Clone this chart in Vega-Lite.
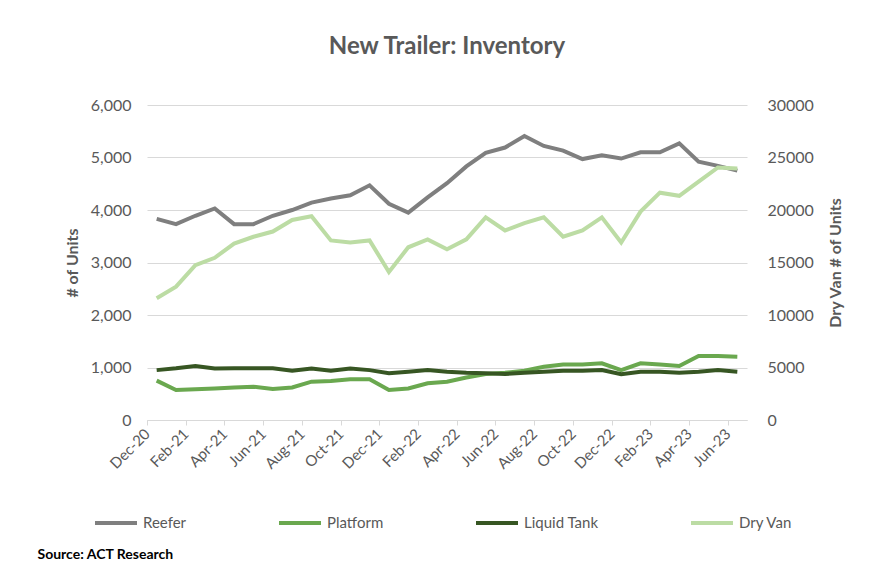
{
"$schema": "https://vega.github.io/schema/vega-lite/v6.json",
"width": 600, "height": 315,
"autosize": {"type": "none"},
"padding": {"left": 147, "top": 105, "right": 148, "bottom": 159},
"background": "white",
"config": {"view": {"stroke": null}, "font": "Lato"},
"title": {"text": "New Trailer: Inventory", "fontSize": 24, "fontWeight": "bold", "color": "#595959", "anchor": "middle", "frame": "group", "offset": 38},
"data": {"values": [
{"month":"Dec-20","series":"Reefer","value":3830},{"month":"Jan-21","series":"Reefer","value":3730},{"month":"Feb-21","series":"Reefer","value":3890},{"month":"Mar-21","series":"Reefer","value":4030},{"month":"Apr-21","series":"Reefer","value":3730},{"month":"May-21","series":"Reefer","value":3730},{"month":"Jun-21","series":"Reefer","value":3890},{"month":"Jul-21","series":"Reefer","value":4000},{"month":"Aug-21","series":"Reefer","value":4140},{"month":"Sep-21","series":"Reefer","value":4220},{"month":"Oct-21","series":"Reefer","value":4280},{"month":"Nov-21","series":"Reefer","value":4470},{"month":"Dec-21","series":"Reefer","value":4120},{"month":"Jan-22","series":"Reefer","value":3950},{"month":"Feb-22","series":"Reefer","value":4240},{"month":"Mar-22","series":"Reefer","value":4510},{"month":"Apr-22","series":"Reefer","value":4830},{"month":"May-22","series":"Reefer","value":5090},{"month":"Jun-22","series":"Reefer","value":5190},{"month":"Jul-22","series":"Reefer","value":5410},{"month":"Aug-22","series":"Reefer","value":5220},{"month":"Sep-22","series":"Reefer","value":5130},{"month":"Oct-22","series":"Reefer","value":4970},{"month":"Nov-22","series":"Reefer","value":5040},{"month":"Dec-22","series":"Reefer","value":4980},{"month":"Jan-23","series":"Reefer","value":5100},{"month":"Feb-23","series":"Reefer","value":5100},{"month":"Mar-23","series":"Reefer","value":5270},{"month":"Apr-23","series":"Reefer","value":4920},{"month":"May-23","series":"Reefer","value":4840},{"month":"Jun-23","series":"Reefer","value":4750},
{"month":"Dec-20","series":"Platform","value":750},{"month":"Jan-21","series":"Platform","value":570},{"month":"Feb-21","series":"Platform","value":585},{"month":"Mar-21","series":"Platform","value":600},{"month":"Apr-21","series":"Platform","value":620},{"month":"May-21","series":"Platform","value":635},{"month":"Jun-21","series":"Platform","value":590},{"month":"Jul-21","series":"Platform","value":620},{"month":"Aug-21","series":"Platform","value":730},{"month":"Sep-21","series":"Platform","value":745},{"month":"Oct-21","series":"Platform","value":775},{"month":"Nov-21","series":"Platform","value":775},{"month":"Dec-21","series":"Platform","value":570},{"month":"Jan-22","series":"Platform","value":600},{"month":"Feb-22","series":"Platform","value":700},{"month":"Mar-22","series":"Platform","value":730},{"month":"Apr-22","series":"Platform","value":810},{"month":"May-22","series":"Platform","value":875},{"month":"Jun-22","series":"Platform","value":900},{"month":"Jul-22","series":"Platform","value":940},{"month":"Aug-22","series":"Platform","value":1015},{"month":"Sep-22","series":"Platform","value":1055},{"month":"Oct-22","series":"Platform","value":1055},{"month":"Nov-22","series":"Platform","value":1080},{"month":"Dec-22","series":"Platform","value":950},{"month":"Jan-23","series":"Platform","value":1080},{"month":"Feb-23","series":"Platform","value":1055},{"month":"Mar-23","series":"Platform","value":1030},{"month":"Apr-23","series":"Platform","value":1220},{"month":"May-23","series":"Platform","value":1220},{"month":"Jun-23","series":"Platform","value":1205},
{"month":"Dec-20","series":"Liquid Tank","value":950},{"month":"Jan-21","series":"Liquid Tank","value":985},{"month":"Feb-21","series":"Liquid Tank","value":1030},{"month":"Mar-21","series":"Liquid Tank","value":980},{"month":"Apr-21","series":"Liquid Tank","value":985},{"month":"May-21","series":"Liquid Tank","value":985},{"month":"Jun-21","series":"Liquid Tank","value":985},{"month":"Jul-21","series":"Liquid Tank","value":940},{"month":"Aug-21","series":"Liquid Tank","value":980},{"month":"Sep-21","series":"Liquid Tank","value":940},{"month":"Oct-21","series":"Liquid Tank","value":980},{"month":"Nov-21","series":"Liquid Tank","value":950},{"month":"Dec-21","series":"Liquid Tank","value":890},{"month":"Jan-22","series":"Liquid Tank","value":920},{"month":"Feb-22","series":"Liquid Tank","value":950},{"month":"Mar-22","series":"Liquid Tank","value":920},{"month":"Apr-22","series":"Liquid Tank","value":900},{"month":"May-22","series":"Liquid Tank","value":890},{"month":"Jun-22","series":"Liquid Tank","value":875},{"month":"Jul-22","series":"Liquid Tank","value":900},{"month":"Aug-22","series":"Liquid Tank","value":920},{"month":"Sep-22","series":"Liquid Tank","value":940},{"month":"Oct-22","series":"Liquid Tank","value":940},{"month":"Nov-22","series":"Liquid Tank","value":950},{"month":"Dec-22","series":"Liquid Tank","value":870},{"month":"Jan-23","series":"Liquid Tank","value":920},{"month":"Feb-23","series":"Liquid Tank","value":920},{"month":"Mar-23","series":"Liquid Tank","value":900},{"month":"Apr-23","series":"Liquid Tank","value":920},{"month":"May-23","series":"Liquid Tank","value":950},{"month":"Jun-23","series":"Liquid Tank","value":920},
{"month":"Dec-20","series":"Dry Van","value":11600},{"month":"Jan-21","series":"Dry Van","value":12700},{"month":"Feb-21","series":"Dry Van","value":14750},{"month":"Mar-21","series":"Dry Van","value":15450},{"month":"Apr-21","series":"Dry Van","value":16800},{"month":"May-21","series":"Dry Van","value":17450},{"month":"Jun-21","series":"Dry Van","value":17950},{"month":"Jul-21","series":"Dry Van","value":19050},{"month":"Aug-21","series":"Dry Van","value":19400},{"month":"Sep-21","series":"Dry Van","value":17100},{"month":"Oct-21","series":"Dry Van","value":16900},{"month":"Nov-21","series":"Dry Van","value":17100},{"month":"Dec-21","series":"Dry Van","value":14100},{"month":"Jan-22","series":"Dry Van","value":16450},{"month":"Feb-22","series":"Dry Van","value":17200},{"month":"Mar-22","series":"Dry Van","value":16250},{"month":"Apr-22","series":"Dry Van","value":17200},{"month":"May-22","series":"Dry Van","value":19300},{"month":"Jun-22","series":"Dry Van","value":18050},{"month":"Jul-22","series":"Dry Van","value":18750},{"month":"Aug-22","series":"Dry Van","value":19300},{"month":"Sep-22","series":"Dry Van","value":17450},{"month":"Oct-22","series":"Dry Van","value":18050},{"month":"Nov-22","series":"Dry Van","value":19300},{"month":"Dec-22","series":"Dry Van","value":16900},{"month":"Jan-23","series":"Dry Van","value":19850},{"month":"Feb-23","series":"Dry Van","value":21650},{"month":"Mar-23","series":"Dry Van","value":21350},{"month":"Apr-23","series":"Dry Van","value":22700},{"month":"May-23","series":"Dry Van","value":24050},{"month":"Jun-23","series":"Dry Van","value":23950}
]},
"encoding": {
  "x": {"field": "month", "type": "ordinal",
    "sort": ["Dec-20","Jan-21","Feb-21","Mar-21","Apr-21","May-21","Jun-21","Jul-21","Aug-21","Sep-21","Oct-21","Nov-21","Dec-21","Jan-22","Feb-22","Mar-22","Apr-22","May-22","Jun-22","Jul-22","Aug-22","Sep-22","Oct-22","Nov-22","Dec-22","Jan-23","Feb-23","Mar-23","Apr-23","May-23","Jun-23"],
    "scale": {"type": "point", "padding": 0.5},
    "axis": {"values": ["Dec-20","Feb-21","Apr-21","Jun-21","Aug-21","Oct-21","Dec-21","Feb-22","Apr-22","Jun-22","Aug-22","Oct-22","Dec-22","Feb-23","Apr-23","Jun-23"],
      "labelAngle": -45, "labelAlign": "right", "labelBaseline": "middle", "labelFontSize": 15, "labelColor": "#595959", "labelPadding": 6,
      "tickOffset": -9.68, "tickSize": 5, "tickColor": "#d9d9d9", "domainColor": "#d9d9d9", "grid": false,
      "title": "Source: ACT Research", "titleFontSize": 14, "titleFontWeight": "bold", "titleColor": "#000000",
      "titleAnchor": "start", "titleAlign": "left", "titleBaseline": "alphabetic", "titleX": -110, "titleY": 138}}
},
"layer": [
  {"transform": [{"filter": "datum.series !== 'Dry Van'"}],
   "mark": {"type": "line", "strokeWidth": 4},
   "encoding": {
     "y": {"field": "value", "type": "quantitative", "scale": {"domain": [0, 6000]},
       "axis": {"orient": "left", "values": [0,1000,2000,3000,4000,5000,6000], "format": ",.0f", "title": "# of Units",
         "titleFontSize": 16, "titleFontWeight": "bold", "titleColor": "#595959", "titlePadding": 10,
         "labelFontSize": 16, "labelColor": "#595959", "labelPadding": 16, "ticks": false, "tickSize": 0, "domain": false,
         "grid": true, "gridColor": "#d9d9d9", "gridWidth": 1}},
     "color": {"field": "series", "type": "nominal",
       "scale": {"domain": ["Reefer","Platform","Liquid Tank","Dry Van"], "range": ["#7f7f7f","#6aa84f","#375623","#bcdca4"]},
       "legend": {"orient": "none", "legendX": -54, "legendY": 395, "direction": "horizontal", "columns": 4, "title": null,
         "symbolType": "stroke", "symbolSize": 1764, "symbolStrokeWidth": 4, "labelFontSize": 15, "labelColor": "#595959",
         "labelOffset": 4, "columnPadding": 84}}
   }},
  {"transform": [{"filter": "datum.series === 'Dry Van'"}],
   "mark": {"type": "line", "strokeWidth": 4},
   "encoding": {
     "y": {"field": "value", "type": "quantitative", "scale": {"domain": [0, 30000]},
       "axis": {"orient": "right", "values": [0,5000,10000,15000,20000,25000,30000], "format": ".0f", "title": "Dry Van # of Units",
         "titleFontSize": 16, "titleFontWeight": "bold", "titleColor": "#595959", "titlePadding": 30, "titleAngle": 270,
         "labelFontSize": 16, "labelColor": "#595959", "labelPadding": 20, "ticks": false, "tickSize": 0, "domain": false, "grid": false}},
     "color": {"field": "series", "type": "nominal",
       "legend": {"orient": "none", "legendX": -54, "legendY": 395, "direction": "horizontal", "columns": 4, "title": null,
         "symbolType": "stroke", "symbolSize": 1764, "symbolStrokeWidth": 4, "labelFontSize": 15, "labelColor": "#595959",
         "labelOffset": 4, "columnPadding": 84}}
   }}
],
"resolve": {"scale": {"y": "independent"}}
}
